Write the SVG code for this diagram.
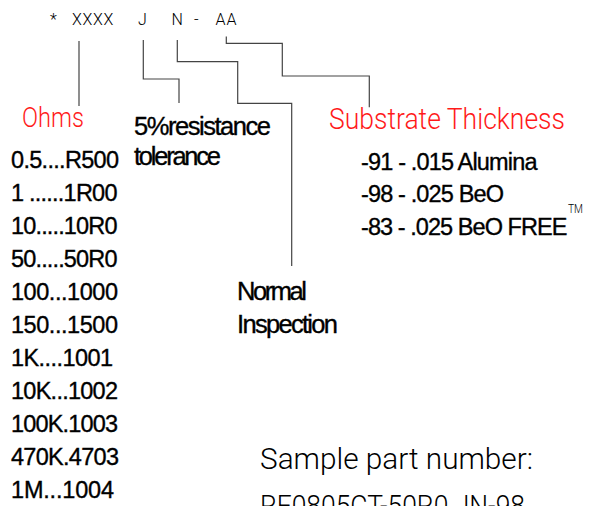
<svg xmlns="http://www.w3.org/2000/svg" width="590" height="506" viewBox="0 0 590 506">
<style>
.thin{font-family:Roboto,"Open Sans","DejaVu Sans",sans-serif;font-weight:300}
.red{fill:#ff1a1a}
.blk{fill:#000}
.ar{font-family:"Liberation Sans",Arial,sans-serif;fill:#000;stroke:#000;stroke-width:0.35}
.list{font-size:23.5px}
.lab{font-size:25.5px}
.conn{fill:none;stroke:#444;stroke-width:1.2}
</style>
<rect width="590" height="506" fill="#fff"/>
<g id="connectors">
<path class="conn" d="M79 41V106"/>
<path class="conn" d="M143.3 40V79H179V103"/>
<path class="conn" d="M177.3 40V61.7H237.7V103.3H291.7V266"/>
<path class="conn" d="M226.3 36.5V43.3H282.3V76H369.3V107.3"/>
</g>
<g id="part-code">
<text class="thin blk" font-size="16" y="25" x="50 61 72 82.5 93 103.5 120 138 160 171.5 185 194 205 215.5 226.5">* XXXX J N - AA</text>
</g>
<g id="ohms">
<text class="thin red" font-size="28" x="22" y="126.7" textLength="62" lengthAdjust="spacingAndGlyphs">Ohms</text>
<g class="ar list">
<text x="11" y="168" textLength="108" lengthAdjust="spacing">0.5....R500</text>
<text x="11" y="201" textLength="106.5" lengthAdjust="spacing">1 ......1R00</text>
<text x="11" y="234" textLength="106.5" lengthAdjust="spacing">10.....10R0</text>
<text x="11" y="267" textLength="106.5" lengthAdjust="spacing">50.....50R0</text>
<text x="11" y="300" textLength="107" lengthAdjust="spacing">100...1000</text>
<text x="11" y="333" textLength="107" lengthAdjust="spacing">150...1500</text>
<text x="11" y="366" textLength="102" lengthAdjust="spacing">1K....1001</text>
<text x="11" y="399" textLength="107" lengthAdjust="spacing">10K...1002</text>
<text x="11" y="432" textLength="107" lengthAdjust="spacing">100K.1003</text>
<text x="11" y="465" textLength="108" lengthAdjust="spacing">470K.4703</text>
<text x="11" y="498" textLength="103" lengthAdjust="spacing">1M...1004</text>
</g>
</g>
<g id="tolerance">
<text class="ar lab" x="134" y="135" textLength="137" lengthAdjust="spacing">5%resistance</text>
<text class="ar lab" x="134" y="165" textLength="87" lengthAdjust="spacing">tolerance</text>
</g>
<g id="inspection">
<text class="ar lab" x="237" y="299.5" textLength="70" lengthAdjust="spacing">Normal</text>
<text class="ar lab" x="237" y="332.5" textLength="101" lengthAdjust="spacing">Inspection</text>
</g>
<g id="substrate">
<text class="thin red" font-size="29" x="329" y="129" textLength="236" lengthAdjust="spacingAndGlyphs">Substrate Thickness</text>
<g class="ar list">
<text x="361" y="169.5" textLength="176.5" lengthAdjust="spacing">-91 - .015 Alumina</text>
<text x="361" y="202" textLength="143" lengthAdjust="spacing">-98 - .025 BeO</text>
<text x="361" y="235" textLength="206.5" lengthAdjust="spacing">-83 - .025 BeO FREE</text>
</g>
<text class="thin blk" font-size="12.5" x="568" y="213" textLength="15" lengthAdjust="spacingAndGlyphs">TM</text>
</g>
<g id="sample">
<text class="thin blk" font-size="29" x="260" y="469.3" textLength="273" lengthAdjust="spacingAndGlyphs">Sample part number:</text>
<text class="thin blk" font-size="29" x="260" y="516" textLength="265" lengthAdjust="spacingAndGlyphs">RF0805CT-50R0 JN-98</text>
</g>
</svg>
